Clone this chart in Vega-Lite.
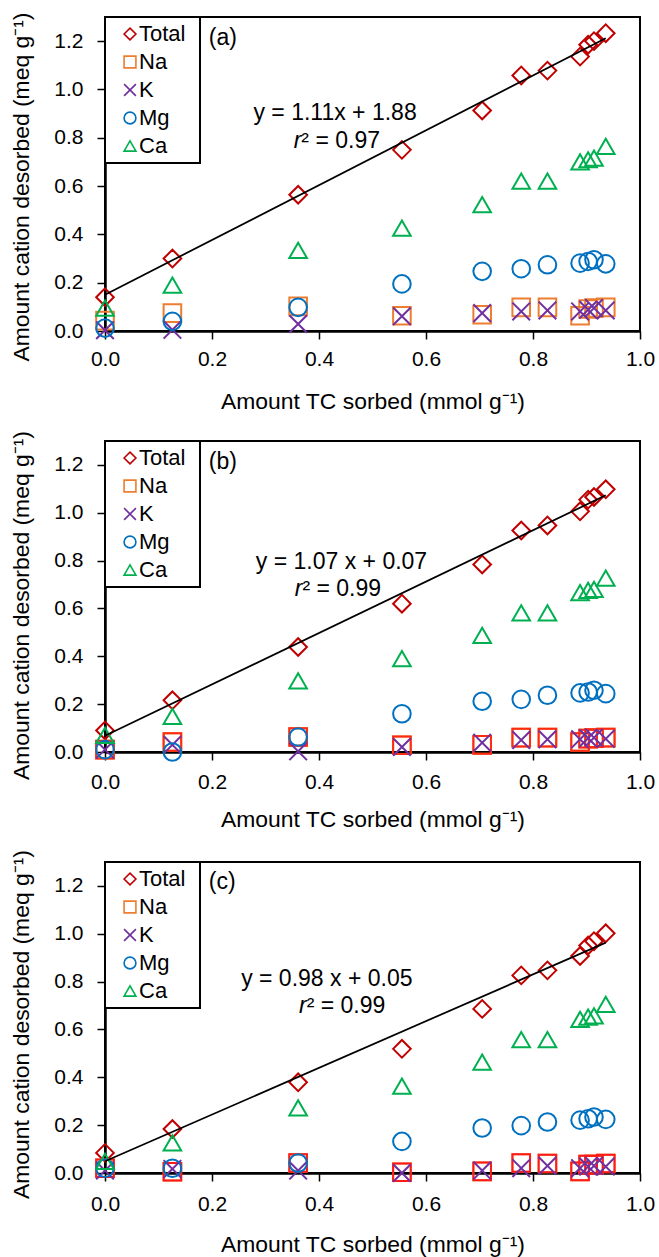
{
  "$schema": "https://vega.github.io/schema/vega-lite/v6.json",
  "padding": {"left": 9, "top": 11, "right": 0, "bottom": 0},
  "background": "white",
  "config": {
    "font": "Liberation Sans",
    "view": {"stroke": "black", "strokeWidth": 2},
    "axis": {
      "grid": false,
      "domainColor": "black",
      "domainWidth": 2.5,
      "tickColor": "black",
      "tickWidth": 1.5,
      "tickSize": 8,
      "labelFont": "Liberation Sans",
      "labelFontSize": 21,
      "labelColor": "black",
      "labelFlush": false,
      "labelOverlap": false,
      "titleFont": "Liberation Sans",
      "titleFontSize": 22.9,
      "titleFontWeight": "normal",
      "titleColor": "black"
    },
    "legend": {
      "orient": "top-left",
      "offset": 0,
      "padding": 6,
      "rowPadding": 6,
      "symbolSize": 140,
      "symbolStrokeWidth": 1.6,
      "labelFont": "Liberation Sans",
      "labelFontSize": 22,
      "labelColor": "black",
      "labelOffset": -2,
      "symbolOffset": 8,
      "strokeColor": "black",
      "strokeWidth": 2,
      "fillColor": "white",
      "titleOrient": "right",
      "titlePadding": 8,
      "titleFontSize": 2,
      "titleColor": "white"
    },
    "text": {"font": "Liberation Sans", "fontSize": 23, "color": "black"}
  },
  "datasets": {
    "pts": [
      {"p":"a","s":"Total","x":0,"y":0.14},{"p":"a","s":"Total","x":0.126,"y":0.30},{"p":"a","s":"Total","x":0.361,"y":0.564},{"p":"a","s":"Total","x":0.555,"y":0.75},{"p":"a","s":"Total","x":0.705,"y":0.913},{"p":"a","s":"Total","x":0.778,"y":1.058},{"p":"a","s":"Total","x":0.827,"y":1.078},{"p":"a","s":"Total","x":0.888,"y":1.136},{"p":"a","s":"Total","x":0.903,"y":1.185},{"p":"a","s":"Total","x":0.914,"y":1.20},{"p":"a","s":"Total","x":0.936,"y":1.233},
      {"p":"a","s":"Na","x":0,"y":0.043},{"p":"a","s":"Na","x":0.126,"y":0.074},{"p":"a","s":"Na","x":0.361,"y":0.102},{"p":"a","s":"Na","x":0.555,"y":0.063},{"p":"a","s":"Na","x":0.705,"y":0.067},{"p":"a","s":"Na","x":0.778,"y":0.098},{"p":"a","s":"Na","x":0.827,"y":0.098},{"p":"a","s":"Na","x":0.888,"y":0.063},{"p":"a","s":"Na","x":0.903,"y":0.091},{"p":"a","s":"Na","x":0.914,"y":0.095},{"p":"a","s":"Na","x":0.936,"y":0.098},
      {"p":"a","s":"K","x":0,"y":0.003},{"p":"a","s":"K","x":0.126,"y":0.005},{"p":"a","s":"K","x":0.361,"y":0.029},{"p":"a","s":"K","x":0.555,"y":0.061},{"p":"a","s":"K","x":0.705,"y":0.074},{"p":"a","s":"K","x":0.778,"y":0.081},{"p":"a","s":"K","x":0.827,"y":0.085},{"p":"a","s":"K","x":0.888,"y":0.081},{"p":"a","s":"K","x":0.903,"y":0.088},{"p":"a","s":"K","x":0.914,"y":0.095},{"p":"a","s":"K","x":0.936,"y":0.085},
      {"p":"a","s":"Mg","x":0,"y":0.012},{"p":"a","s":"Mg","x":0.126,"y":0.04},{"p":"a","s":"Mg","x":0.361,"y":0.098},{"p":"a","s":"Mg","x":0.555,"y":0.195},{"p":"a","s":"Mg","x":0.705,"y":0.247},{"p":"a","s":"Mg","x":0.778,"y":0.258},{"p":"a","s":"Mg","x":0.827,"y":0.274},{"p":"a","s":"Mg","x":0.888,"y":0.281},{"p":"a","s":"Mg","x":0.903,"y":0.288},{"p":"a","s":"Mg","x":0.914,"y":0.295},{"p":"a","s":"Mg","x":0.936,"y":0.278},
      {"p":"a","s":"Ca","x":0,"y":0.095},{"p":"a","s":"Ca","x":0.126,"y":0.19},{"p":"a","s":"Ca","x":0.361,"y":0.334},{"p":"a","s":"Ca","x":0.555,"y":0.426},{"p":"a","s":"Ca","x":0.705,"y":0.523},{"p":"a","s":"Ca","x":0.778,"y":0.62},{"p":"a","s":"Ca","x":0.827,"y":0.62},{"p":"a","s":"Ca","x":0.888,"y":0.70},{"p":"a","s":"Ca","x":0.903,"y":0.709},{"p":"a","s":"Ca","x":0.914,"y":0.716},{"p":"a","s":"Ca","x":0.936,"y":0.764},

      {"p":"b","s":"Total","x":0,"y":0.09},{"p":"b","s":"Total","x":0.126,"y":0.216},{"p":"b","s":"Total","x":0.361,"y":0.439},{"p":"b","s":"Total","x":0.555,"y":0.62},{"p":"b","s":"Total","x":0.705,"y":0.784},{"p":"b","s":"Total","x":0.778,"y":0.926},{"p":"b","s":"Total","x":0.827,"y":0.947},{"p":"b","s":"Total","x":0.888,"y":1.006},{"p":"b","s":"Total","x":0.903,"y":1.055},{"p":"b","s":"Total","x":0.914,"y":1.066},{"p":"b","s":"Total","x":0.936,"y":1.098},
      {"p":"b","s":"Na","x":0,"y":0.01},{"p":"b","s":"Na","x":0.126,"y":0.042},{"p":"b","s":"Na","x":0.361,"y":0.063},{"p":"b","s":"Na","x":0.555,"y":0.028},{"p":"b","s":"Na","x":0.705,"y":0.03},{"p":"b","s":"Na","x":0.778,"y":0.06},{"p":"b","s":"Na","x":0.827,"y":0.06},{"p":"b","s":"Na","x":0.888,"y":0.042},{"p":"b","s":"Na","x":0.903,"y":0.056},{"p":"b","s":"Na","x":0.914,"y":0.058},{"p":"b","s":"Na","x":0.936,"y":0.06},
      {"p":"b","s":"K","x":0,"y":0.01},{"p":"b","s":"K","x":0.126,"y":0.03},{"p":"b","s":"K","x":0.361,"y":0.003},{"p":"b","s":"K","x":0.555,"y":0.021},{"p":"b","s":"K","x":0.705,"y":0.039},{"p":"b","s":"K","x":0.778,"y":0.05},{"p":"b","s":"K","x":0.827,"y":0.053},{"p":"b","s":"K","x":0.888,"y":0.053},{"p":"b","s":"K","x":0.903,"y":0.058},{"p":"b","s":"K","x":0.914,"y":0.06},{"p":"b","s":"K","x":0.936,"y":0.055},
      {"p":"b","s":"Mg","x":0,"y":0.01},{"p":"b","s":"Mg","x":0.126,"y":0.0},{"p":"b","s":"Mg","x":0.361,"y":0.063},{"p":"b","s":"Mg","x":0.555,"y":0.16},{"p":"b","s":"Mg","x":0.705,"y":0.212},{"p":"b","s":"Mg","x":0.778,"y":0.22},{"p":"b","s":"Mg","x":0.827,"y":0.237},{"p":"b","s":"Mg","x":0.888,"y":0.247},{"p":"b","s":"Mg","x":0.903,"y":0.251},{"p":"b","s":"Mg","x":0.914,"y":0.258},{"p":"b","s":"Mg","x":0.936,"y":0.244},
      {"p":"b","s":"Ca","x":0,"y":0.07},{"p":"b","s":"Ca","x":0.126,"y":0.149},{"p":"b","s":"Ca","x":0.361,"y":0.297},{"p":"b","s":"Ca","x":0.555,"y":0.39},{"p":"b","s":"Ca","x":0.705,"y":0.487},{"p":"b","s":"Ca","x":0.778,"y":0.582},{"p":"b","s":"Ca","x":0.827,"y":0.582},{"p":"b","s":"Ca","x":0.888,"y":0.666},{"p":"b","s":"Ca","x":0.903,"y":0.676},{"p":"b","s":"Ca","x":0.914,"y":0.68},{"p":"b","s":"Ca","x":0.936,"y":0.727},

      {"p":"c","s":"Total","x":0,"y":0.084},{"p":"c","s":"Total","x":0.126,"y":0.184},{"p":"c","s":"Total","x":0.361,"y":0.379},{"p":"c","s":"Total","x":0.555,"y":0.519},{"p":"c","s":"Total","x":0.705,"y":0.686},{"p":"c","s":"Total","x":0.778,"y":0.826},{"p":"c","s":"Total","x":0.827,"y":0.847},{"p":"c","s":"Total","x":0.888,"y":0.907},{"p":"c","s":"Total","x":0.903,"y":0.951},{"p":"c","s":"Total","x":0.914,"y":0.969},{"p":"c","s":"Total","x":0.936,"y":1.002},
      {"p":"c","s":"Na","x":0,"y":0.02},{"p":"c","s":"Na","x":0.126,"y":0.005},{"p":"c","s":"Na","x":0.361,"y":0.042},{"p":"c","s":"Na","x":0.555,"y":0.003},{"p":"c","s":"Na","x":0.705,"y":0.007},{"p":"c","s":"Na","x":0.778,"y":0.042},{"p":"c","s":"Na","x":0.827,"y":0.04},{"p":"c","s":"Na","x":0.888,"y":0.007},{"p":"c","s":"Na","x":0.903,"y":0.035},{"p":"c","s":"Na","x":0.914,"y":0.035},{"p":"c","s":"Na","x":0.936,"y":0.04},
      {"p":"c","s":"K","x":0,"y":0.01},{"p":"c","s":"K","x":0.126,"y":0.017},{"p":"c","s":"K","x":0.361,"y":0.01},{"p":"c","s":"K","x":0.555,"y":0.0},{"p":"c","s":"K","x":0.705,"y":0.01},{"p":"c","s":"K","x":0.778,"y":0.02},{"p":"c","s":"K","x":0.827,"y":0.03},{"p":"c","s":"K","x":0.888,"y":0.02},{"p":"c","s":"K","x":0.903,"y":0.027},{"p":"c","s":"K","x":0.914,"y":0.03},{"p":"c","s":"K","x":0.936,"y":0.027},
      {"p":"c","s":"Mg","x":0,"y":0.02},{"p":"c","s":"Mg","x":0.126,"y":0.02},{"p":"c","s":"Mg","x":0.361,"y":0.042},{"p":"c","s":"Mg","x":0.555,"y":0.132},{"p":"c","s":"Mg","x":0.705,"y":0.188},{"p":"c","s":"Mg","x":0.778,"y":0.198},{"p":"c","s":"Mg","x":0.827,"y":0.213},{"p":"c","s":"Mg","x":0.888,"y":0.221},{"p":"c","s":"Mg","x":0.903,"y":0.227},{"p":"c","s":"Mg","x":0.914,"y":0.234},{"p":"c","s":"Mg","x":0.936,"y":0.224},
      {"p":"c","s":"Ca","x":0,"y":0.049},{"p":"c","s":"Ca","x":0.126,"y":0.126},{"p":"c","s":"Ca","x":0.361,"y":0.272},{"p":"c","s":"Ca","x":0.555,"y":0.363},{"p":"c","s":"Ca","x":0.705,"y":0.463},{"p":"c","s":"Ca","x":0.778,"y":0.558},{"p":"c","s":"Ca","x":0.827,"y":0.558},{"p":"c","s":"Ca","x":0.888,"y":0.642},{"p":"c","s":"Ca","x":0.903,"y":0.652},{"p":"c","s":"Ca","x":0.914,"y":0.657},{"p":"c","s":"Ca","x":0.936,"y":0.705}
    ],
    "fit": [
      {"p":"a","x":0,"y":0.15},{"p":"a","x":0.936,"y":1.212},
      {"p":"b","x":0,"y":0.068},{"p":"b","x":0.936,"y":1.073},
      {"p":"c","x":0,"y":0.049},{"p":"c","x":0.936,"y":0.963}
    ],
    "ann": [
      {"p":"a","k":"eq","x":0.43,"y":0.901,"t":"y = 1.11x + 1.88"},
      {"p":"a","k":"r","x":0.367,"y":0.786,"t":"r"},
      {"p":"a","k":"rest","x":0.367,"y":0.786,"t":"² = 0.97"},
      {"p":"a","k":"lab","x":0.194,"y":1.215,"t":"(a)"},
      {"p":"b","k":"eq","x":0.442,"y":0.795,"t":"y = 1.07 x + 0.07"},
      {"p":"b","k":"r","x":0.369,"y":0.682,"t":"r"},
      {"p":"b","k":"rest","x":0.369,"y":0.682,"t":"² = 0.99"},
      {"p":"b","k":"lab","x":0.194,"y":1.214,"t":"(b)"},
      {"p":"c","k":"eq","x":0.4146,"y":0.813,"t":"y = 0.98 x + 0.05"},
      {"p":"c","k":"r","x":0.377,"y":0.70,"t":"r"},
      {"p":"c","k":"rest","x":0.377,"y":0.70,"t":"² = 0.99"},
      {"p":"c","k":"lab","x":0.194,"y":1.216,"t":"(c)"}
    ]
  },
  "spacing": 110,
  "bounds": "flush",
  "resolve": {
    "scale": {"x": "independent", "y": "independent", "color": "independent", "shape": "independent"},
    "legend": {"color": "independent", "shape": "independent"}
  },
  "vconcat": [
    {
      "width": 535, "height": 314,
      "encoding": {
        "x": {"field": "x", "type": "quantitative", "scale": {"domain": [0, 1], "nice": false},
              "axis": {"values": [0, 0.2, 0.4, 0.6, 0.8, 1.0], "format": ".1f", "title": "Amount TC sorbed (mmol g⁻¹)", "labelPadding": 9, "titlePadding": 21}},
        "y": {"field": "y", "type": "quantitative", "scale": {"domain": [0, 1.3], "nice": false},
              "axis": {"values": [0, 0.2, 0.4, 0.6, 0.8, 1.0, 1.2], "format": ".1f", "title": "Amount cation desorbed (meq g⁻¹)", "labelPadding": 14, "titlePadding": 20, "titleY": 169.5}}
      },
      "layer": [
        {"data": {"name": "pts"}, "transform": [{"filter": "datum.p === 'a' && (datum.s === 'Total' || datum.s === 'Na')"}],
         "mark": {"type": "point", "filled": false, "size": 310, "strokeWidth": 2, "opacity": 1},
         "encoding": {
           "color": {"field": "s", "type": "nominal", "scale": {"domain": ["Total", "Na", "K", "Mg", "Ca"], "range": ["#C00000", "#ED7D31", "#7030A0", "#0070C0", "#00B050"]}, "legend": {"title": "."}},
           "shape": {"field": "s", "type": "nominal", "scale": {"domain": ["Total", "Na", "K", "Mg", "Ca"], "range": ["diamond", "square", "M-1,-1L1,1M-1,1L1,-1", "circle", "triangle-up"]}, "legend": {"title": "."}}
         }},
        {"data": {"name": "pts"}, "transform": [{"filter": "datum.p === 'a' && datum.s !== 'Total' && datum.s !== 'Na'"}],
         "mark": {"type": "point", "filled": false, "size": 310, "strokeWidth": 2, "opacity": 1},
         "encoding": {
           "color": {"field": "s", "type": "nominal", "scale": {"domain": ["Total", "Na", "K", "Mg", "Ca"], "range": ["#C00000", "#ED7D31", "#7030A0", "#0070C0", "#00B050"]}, "legend": {"title": "."}},
           "shape": {"field": "s", "type": "nominal", "scale": {"domain": ["Total", "Na", "K", "Mg", "Ca"], "range": ["diamond", "square", "M-1,-1L1,1M-1,1L1,-1", "circle", "triangle-up"]}, "legend": {"title": "."}}
         }},
        {"data": {"name": "fit"}, "transform": [{"filter": "datum.p === 'a'"}],
         "mark": {"type": "line", "color": "black", "strokeWidth": 1.75}, "encoding": {}},
        {"data": {"name": "ann"}, "transform": [{"filter": "datum.p === 'a' && datum.k === 'eq'"}],
         "mark": {"type": "text", "align": "center", "baseline": "middle"}, "encoding": {"text": {"field": "t"}}},
        {"data": {"name": "ann"}, "transform": [{"filter": "datum.p === 'a' && datum.k === 'r'"}],
         "mark": {"type": "text", "align": "right", "baseline": "middle", "fontStyle": "italic"}, "encoding": {"text": {"field": "t"}}},
        {"data": {"name": "ann"}, "transform": [{"filter": "datum.p === 'a' && datum.k === 'rest'"}],
         "mark": {"type": "text", "align": "left", "baseline": "middle"}, "encoding": {"text": {"field": "t"}}},
        {"data": {"name": "ann"}, "transform": [{"filter": "datum.p === 'a' && datum.k === 'lab'"}],
         "mark": {"type": "text", "align": "left", "baseline": "middle"}, "encoding": {"text": {"field": "t"}}}
      ]
    },
    {
      "width": 535, "height": 311,
      "encoding": {
        "x": {"field": "x", "type": "quantitative", "scale": {"domain": [0, 1], "nice": false},
              "axis": {"values": [0, 0.2, 0.4, 0.6, 0.8, 1.0], "format": ".1f", "title": "Amount TC sorbed (mmol g⁻¹)", "labelPadding": 11, "titlePadding": 16}},
        "y": {"field": "y", "type": "quantitative", "scale": {"domain": [0, 1.3], "nice": false},
              "axis": {"values": [0, 0.2, 0.4, 0.6, 0.8, 1.0, 1.2], "format": ".1f", "title": "Amount cation desorbed (meq g⁻¹)", "labelPadding": 14, "titlePadding": 20, "titleY": 164}}
      },
      "layer": [
        {"data": {"name": "pts"}, "transform": [{"filter": "datum.p === 'b' && (datum.s === 'Total' || datum.s === 'Na')"}],
         "mark": {"type": "point", "filled": false, "size": 310, "strokeWidth": 2, "opacity": 1},
         "encoding": {
           "color": {"field": "s", "type": "nominal", "scale": {"domain": ["Total", "Na", "K", "Mg", "Ca"], "range": ["#C00000", "#ED7D31", "#7030A0", "#0070C0", "#00B050"]}, "legend": {"title": "."}},
           "shape": {"field": "s", "type": "nominal", "scale": {"domain": ["Total", "Na", "K", "Mg", "Ca"], "range": ["diamond", "square", "M-1,-1L1,1M-1,1L1,-1", "circle", "triangle-up"]}, "legend": {"title": "."}}
         }},
        {"data": {"name": "pts"}, "transform": [{"filter": "datum.p === 'b' && datum.s === 'Na'"}],
         "mark": {"type": "point", "shape": "square", "filled": false, "size": 310, "strokeWidth": 2, "opacity": 1, "color": "#FF2A12"}},
        {"data": {"name": "pts"}, "transform": [{"filter": "datum.p === 'b' && datum.s !== 'Total' && datum.s !== 'Na'"}],
         "mark": {"type": "point", "filled": false, "size": 310, "strokeWidth": 2, "opacity": 1},
         "encoding": {
           "color": {"field": "s", "type": "nominal", "scale": {"domain": ["Total", "Na", "K", "Mg", "Ca"], "range": ["#C00000", "#ED7D31", "#7030A0", "#0070C0", "#00B050"]}, "legend": {"title": "."}},
           "shape": {"field": "s", "type": "nominal", "scale": {"domain": ["Total", "Na", "K", "Mg", "Ca"], "range": ["diamond", "square", "M-1,-1L1,1M-1,1L1,-1", "circle", "triangle-up"]}, "legend": {"title": "."}}
         }},
        {"data": {"name": "fit"}, "transform": [{"filter": "datum.p === 'b'"}],
         "mark": {"type": "line", "color": "black", "strokeWidth": 1.75}, "encoding": {}},
        {"data": {"name": "ann"}, "transform": [{"filter": "datum.p === 'b' && datum.k === 'eq'"}],
         "mark": {"type": "text", "align": "center", "baseline": "middle"}, "encoding": {"text": {"field": "t"}}},
        {"data": {"name": "ann"}, "transform": [{"filter": "datum.p === 'b' && datum.k === 'r'"}],
         "mark": {"type": "text", "align": "right", "baseline": "middle", "fontStyle": "italic"}, "encoding": {"text": {"field": "t"}}},
        {"data": {"name": "ann"}, "transform": [{"filter": "datum.p === 'b' && datum.k === 'rest'"}],
         "mark": {"type": "text", "align": "left", "baseline": "middle"}, "encoding": {"text": {"field": "t"}}},
        {"data": {"name": "ann"}, "transform": [{"filter": "datum.p === 'b' && datum.k === 'lab'"}],
         "mark": {"type": "text", "align": "left", "baseline": "middle"}, "encoding": {"text": {"field": "t"}}}
      ]
    },
    {
      "width": 535, "height": 311,
      "encoding": {
        "x": {"field": "x", "type": "quantitative", "scale": {"domain": [0, 1], "nice": false},
              "axis": {"values": [0, 0.2, 0.4, 0.6, 0.8, 1.0], "format": ".1f", "title": "Amount TC sorbed (mmol g⁻¹)", "labelPadding": 12, "titlePadding": 19}},
        "y": {"field": "y", "type": "quantitative", "scale": {"domain": [0, 1.3], "nice": false},
              "axis": {"values": [0, 0.2, 0.4, 0.6, 0.8, 1.0, 1.2], "format": ".1f", "title": "Amount cation desorbed (meq g⁻¹)", "labelPadding": 14, "titlePadding": 20, "titleY": 162}}
      },
      "layer": [
        {"data": {"name": "pts"}, "transform": [{"filter": "datum.p === 'c' && (datum.s === 'Total' || datum.s === 'Na')"}],
         "mark": {"type": "point", "filled": false, "size": 310, "strokeWidth": 2, "opacity": 1},
         "encoding": {
           "color": {"field": "s", "type": "nominal", "scale": {"domain": ["Total", "Na", "K", "Mg", "Ca"], "range": ["#C00000", "#ED7D31", "#7030A0", "#0070C0", "#00B050"]}, "legend": {"title": "."}},
           "shape": {"field": "s", "type": "nominal", "scale": {"domain": ["Total", "Na", "K", "Mg", "Ca"], "range": ["diamond", "square", "M-1,-1L1,1M-1,1L1,-1", "circle", "triangle-up"]}, "legend": {"title": "."}}
         }},
        {"data": {"name": "pts"}, "transform": [{"filter": "datum.p === 'c' && datum.s === 'Na'"}],
         "mark": {"type": "point", "shape": "square", "filled": false, "size": 310, "strokeWidth": 2, "opacity": 1, "color": "#FF1A1A"}},
        {"data": {"name": "pts"}, "transform": [{"filter": "datum.p === 'c' && datum.s !== 'Total' && datum.s !== 'Na'"}],
         "mark": {"type": "point", "filled": false, "size": 310, "strokeWidth": 2, "opacity": 1},
         "encoding": {
           "color": {"field": "s", "type": "nominal", "scale": {"domain": ["Total", "Na", "K", "Mg", "Ca"], "range": ["#C00000", "#ED7D31", "#7030A0", "#0070C0", "#00B050"]}, "legend": {"title": "."}},
           "shape": {"field": "s", "type": "nominal", "scale": {"domain": ["Total", "Na", "K", "Mg", "Ca"], "range": ["diamond", "square", "M-1,-1L1,1M-1,1L1,-1", "circle", "triangle-up"]}, "legend": {"title": "."}}
         }},
        {"data": {"name": "fit"}, "transform": [{"filter": "datum.p === 'c'"}],
         "mark": {"type": "line", "color": "black", "strokeWidth": 1.75}, "encoding": {}},
        {"data": {"name": "ann"}, "transform": [{"filter": "datum.p === 'c' && datum.k === 'eq'"}],
         "mark": {"type": "text", "align": "center", "baseline": "middle"}, "encoding": {"text": {"field": "t"}}},
        {"data": {"name": "ann"}, "transform": [{"filter": "datum.p === 'c' && datum.k === 'r'"}],
         "mark": {"type": "text", "align": "right", "baseline": "middle", "fontStyle": "italic"}, "encoding": {"text": {"field": "t"}}},
        {"data": {"name": "ann"}, "transform": [{"filter": "datum.p === 'c' && datum.k === 'rest'"}],
         "mark": {"type": "text", "align": "left", "baseline": "middle"}, "encoding": {"text": {"field": "t"}}},
        {"data": {"name": "ann"}, "transform": [{"filter": "datum.p === 'c' && datum.k === 'lab'"}],
         "mark": {"type": "text", "align": "left", "baseline": "middle"}, "encoding": {"text": {"field": "t"}}}
      ]
    }
  ]
}
